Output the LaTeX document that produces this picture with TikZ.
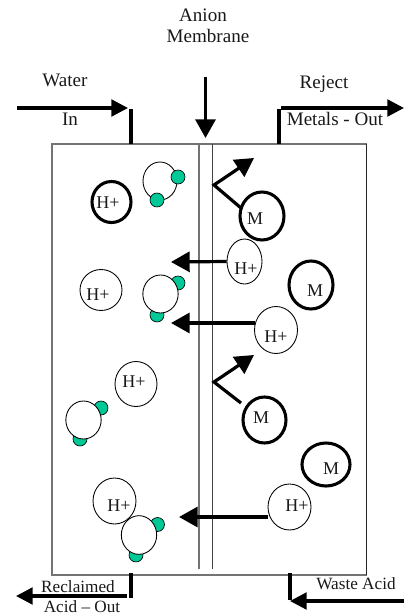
\documentclass[tikz,border=0pt]{standalone}
\usepackage{fontspec}
\setmainfont{Liberation Serif}
\usetikzlibrary{arrows.meta,shapes.geometric}
\definecolor{molgreen}{HTML}{00C896}
\tikzset{
  lbl/.style={inner sep=0pt,anchor=base,font=\fontsize{14.3pt}{15pt}\selectfont,text=black!90},
  lblsmall/.style={lbl,font=\fontsize{12.9pt}{15pt}\selectfont},
  sym/.style={inner sep=0pt,font=\fontsize{13.5pt}{15pt}\selectfont,text=black!90},
  ball/.style={ellipse,draw=black,fill=white,inner sep=0pt,line width=.65pt},
  ionthin/.style={ball},
  ionbold/.style={ball,line width=2.3pt},
  water/.style={ball},
  atom/.style={circle,draw=black,fill=molgreen,inner sep=0pt,minimum size=10.5pt,line width=.5pt},
  flow/.style={line width=2.4pt,-{Triangle[length=12.5pt,width=12.5pt]}},
  bigflow/.style={line width=2.4pt,-{Triangle[length=14pt,width=15pt]}},
  pipe/.style={line width=2.4pt},
  wall/.style={line width=1pt,draw=black!55},
  thinwall/.style={line width=.75pt,draw=black!75}
}
\newcommand{\ionthin}[6]{\node[ionthin,minimum width=#3*.75pt,minimum height=#4*.75pt] (#1) at #2 {};\node[sym] (#1t) at #6 {#5};}
\newcommand{\ionbold}[6]{\node[ionbold,minimum width=#3*.75pt,minimum height=#4*.75pt] (#1) at #2 {};\node[sym] (#1t) at #6 {#5};}
\begin{document}
\begin{tikzpicture}[x=.75pt,y=-.75pt]
\useasboundingbox (0,0) rectangle (404,613);
\clip (0,0) rectangle (404,613);
% vessel
\coordinate (tl) at (52,144);
\coordinate (tr) at (366.5,144);
\coordinate (bl) at (52,575);
\coordinate (br) at (366.5,575);
\draw[wall] (tr) -- (tl) -- (bl) -- (br);
\draw[thinwall,draw=black!85] (tr) -- (br);
\coordinate (m1t) at (199,144);
\coordinate (m1b) at (199,569);
\coordinate (m2t) at (212.5,144);
\coordinate (m2b) at (212.5,569);
\draw[wall] (m1t) -- (m1b);
\draw[thinwall] (m2t) -- (m2b);
% molecules
\node[water,minimum width=25.5pt,minimum height=28.5pt] (w1) at (160,181) {};
\node[atom] (w1a) at (178,177) {};
\node[atom] (w1b) at (157,200) {};
\node[atom] (w2a) at (178,283) {};
\node[atom] (w2b) at (157,315) {};
\node[water,minimum width=26.5pt,minimum height=28.5pt] (w2) at (160.5,294) {};
\node[atom] (w3a) at (101,408) {};
\node[atom] (w3b) at (80,439) {};
\node[water,minimum width=26.5pt,minimum height=28.5pt] (w3) at (83.5,420) {};
% ions
\ionbold{b1}{(111.5,202)}{39}{41}{H+}{(108,203)}
\ionbold{m1}{(262,216)}{44}{48}{M}{(255,219)}
\ionthin{h1}{(244.5,261.5)}{35}{45}{H+}{(246,269)}
\ionbold{m2}{(311,285)}{44}{48}{M}{(315,291)}
\ionthin{h2}{(101,290)}{42}{41}{H+}{(98,295)}
\ionthin{h3}{(276,330)}{43}{47}{H+}{(276,337)}
\ionthin{h4}{(136,384)}{42}{45}{H+}{(134,382)}
\ionbold{m3}{(264.5,420)}{43}{46}{M}{(261,418)}
\ionbold{m4}{(326,464.5)}{48}{43}{M}{(331,469)}
\ionthin{h5}{(289.5,507)}{43}{46}{H+}{(297,506)}
\ionthin{h6}{(114.5,501)}{43}{46}{H+}{(119,506)}
\node[atom] (w4a) at (157.5,524.5) {};
\node[atom] (w4b) at (136,555) {};
\node[water,minimum width=26.5pt,minimum height=29pt] (w4) at (139,535) {};
% crossing arrows
\coordinate (a1) at (171,262);
\coordinate (a2) at (171,323);
\coordinate (a3) at (179,517);
\coordinate (h3w) at (255,323);
\coordinate (h5w) at (268,517);
\draw[bigflow] (h1.west) -- (a1);
\draw[bigflow] (h3w) -- (a2);
\draw[bigflow] (h5w) -- (a3);
% deflected metals
\coordinate (v1s) at (241,208);
\coordinate (v1a) at (214,185);
\coordinate (v1e) at (254,158);
\coordinate (v2s) at (241,403);
\coordinate (v2a) at (214,382);
\coordinate (v2e) at (254,355);
\draw[bigflow,miter limit=10] (v1s) -- (v1a) -- (v1e);
\draw[bigflow,miter limit=10] (v2s) -- (v2a) -- (v2e);
% membrane pointer
\coordinate (ms) at (205.5,77);
\coordinate (me) at (205.5,138);
\draw[bigflow] (ms) -- (me);
% ports
\coordinate (wi0) at (17,108);
\coordinate (wi1) at (128,108);
\coordinate (wp0) at (131,109);
\coordinate (wp1) at (131,144);
\draw[flow] (wi0) -- (wi1);
\draw[pipe] (wp0) -- (wp1);
\coordinate (ro0) at (281,108);
\coordinate (ro1) at (404,108);
\coordinate (rp0) at (279,109);
\coordinate (rp1) at (279,144);
\draw[flow] (ro0) -- (ro1);
\draw[pipe] (rp0) -- (rp1);
\coordinate (ap0) at (131,573);
\coordinate (ap1) at (131,598);
\coordinate (ao0) at (127,596);
\coordinate (ao1) at (16,596);
\draw[pipe] (ap0) -- (ap1);
\draw[flow] (ao0) -- (ao1);
\coordinate (ip0) at (290,573);
\coordinate (ip1) at (290,600);
\coordinate (ii0) at (404,601);
\coordinate (ii1) at (290,601);
\draw[pipe] (ip0) -- (ip1);
\draw[flow] (ii0) -- (ii1);
% labels
\node[lbl] (t1) at (203,22) {Anion};
\node[lbl] (t2) at (208,43) {Membrane};
\node[lbl] (t3) at (65,87) {Water};
\node[lbl] (t4) at (70,126) {In};
\node[lbl] (t5) at (324,89) {Reject};
\node[lbl] (t6) at (335,126) {Metals - Out};
\node[lblsmall] (t7) at (78,592) {Reclaimed};
\node[lblsmall] (t8) at (82,612) {Acid – Out};
\node[lblsmall] (t9) at (356,589) {Waste Acid};
\node[lbl] (t10) at (357,627) {In};
\end{tikzpicture}
\end{document}
